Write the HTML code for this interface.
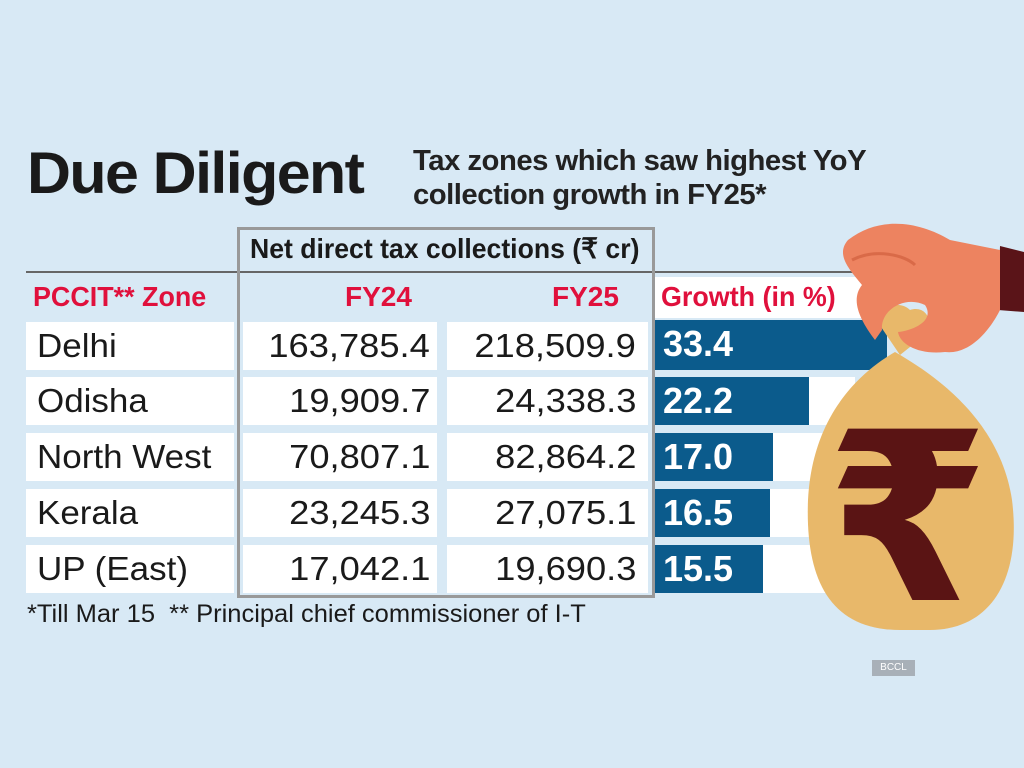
<!DOCTYPE html>
<html><head><meta charset="utf-8"><style>
body{margin:0;width:1024px;height:768px;background:#d8e9f5;position:relative;overflow:hidden;font-family:"Liberation Sans",sans-serif;color:#1a1a1a}
.a{position:absolute}
.c{position:absolute;white-space:nowrap;transform-origin:0 0}
.w{position:absolute;background:#fff}
.n{position:absolute;font-size:33px;white-space:nowrap;line-height:48px;transform:scaleX(1.1);transform-origin:100% 0;text-align:right}
.z{position:absolute;left:37px;font-size:33px;white-space:nowrap;line-height:48px;transform:scaleX(1.06);transform-origin:0 0}
.b{position:absolute;left:655px;background:#0b5b8c;color:#fff;font-weight:bold;font-size:36px;line-height:48px;padding-left:8px;box-sizing:border-box}
</style></head><body>
<div class="c" style="left:27px;top:140px;font-size:58px;font-weight:bold;letter-spacing:-1.5px;transform:scaleX(1.05)">Due Diligent</div>
<div class="c" style="left:413px;top:144px;font-size:29px;font-weight:bold;line-height:34px;color:#222;transform:scaleX(1.01);letter-spacing:-0.5px">Tax zones which saw highest YoY<br>collection growth in FY25*</div>
<div class="a" style="left:26px;top:271px;width:864px;height:2px;background:#666"></div>
<div class="a" style="left:237px;top:227px;width:412px;height:365px;border:3px solid #999"></div>
<div class="c" style="left:250px;top:232px;font-size:28px;font-weight:bold;transform:scaleX(.95)">Net direct tax collections (₹ cr)</div>
<div class="c" style="left:33px;top:281px;font-size:28px;font-weight:bold;color:#e0103c;transform:scaleX(.96)">PCCIT** Zone</div>
<div class="c" style="left:345px;top:281px;font-size:28px;font-weight:bold;color:#e0103c;transform:scaleX(1.0)">FY24</div>
<div class="c" style="left:552px;top:281px;font-size:28px;font-weight:bold;color:#e0103c;transform:scaleX(1.0)">FY25</div>
<div class="w" style="left:655px;top:277px;width:236px;height:41px"></div>
<div class="c" style="left:661px;top:281px;font-size:28px;font-weight:bold;color:#e0103c;transform:scaleX(.96)">Growth (in %)</div>

<div class="w" style="left:26px;top:322px;width:208px;height:48px"></div><div class="w" style="left:243px;top:322px;width:194px;height:48px"></div><div class="w" style="left:447px;top:322px;width:201px;height:48px"></div>
<div class="w" style="left:26px;top:377px;width:208px;height:48px"></div><div class="w" style="left:243px;top:377px;width:194px;height:48px"></div><div class="w" style="left:447px;top:377px;width:201px;height:48px"></div><div class="w" style="left:655px;top:377px;width:200px;height:48px"></div>
<div class="w" style="left:26px;top:433px;width:208px;height:48px"></div><div class="w" style="left:243px;top:433px;width:194px;height:48px"></div><div class="w" style="left:447px;top:433px;width:201px;height:48px"></div><div class="w" style="left:655px;top:433px;width:200px;height:48px"></div>
<div class="w" style="left:26px;top:489px;width:208px;height:48px"></div><div class="w" style="left:243px;top:489px;width:194px;height:48px"></div><div class="w" style="left:447px;top:489px;width:201px;height:48px"></div><div class="w" style="left:655px;top:489px;width:200px;height:48px"></div>
<div class="w" style="left:26px;top:545px;width:208px;height:48px"></div><div class="w" style="left:243px;top:545px;width:194px;height:48px"></div><div class="w" style="left:447px;top:545px;width:201px;height:48px"></div><div class="w" style="left:655px;top:545px;width:200px;height:48px"></div>

<div class="z" style="top:322px">Delhi</div>
<div class="z" style="top:377px">Odisha</div>
<div class="z" style="top:433px">North West</div>
<div class="z" style="top:489px">Kerala</div>
<div class="z" style="top:545px">UP (East)</div>

<div class="n" style="right:594px;top:322px">163,785.4</div><div class="n" style="right:388px;top:322px">218,509.9</div>
<div class="n" style="right:594px;top:377px">19,909.7</div><div class="n" style="right:388px;top:377px">24,338.3</div>
<div class="n" style="right:594px;top:433px">70,807.1</div><div class="n" style="right:388px;top:433px">82,864.2</div>
<div class="n" style="right:594px;top:489px">23,245.3</div><div class="n" style="right:388px;top:489px">27,075.1</div>
<div class="n" style="right:594px;top:545px">17,042.1</div><div class="n" style="right:388px;top:545px">19,690.3</div>

<div class="b" style="top:320px;width:232px;height:50px">33.4</div>
<div class="b" style="top:377px;width:154px;height:48px">22.2</div>
<div class="b" style="top:433px;width:118px;height:48px">17.0</div>
<div class="b" style="top:489px;width:115px;height:48px">16.5</div>
<div class="b" style="top:545px;width:108px;height:48px">15.5</div>

<svg class="a" style="left:0;top:0" width="1024" height="768">
<path d="M1000 246 L1024 252 L1024 312 L998 310 Z" fill="#5a1418"/>
<path d="M900 630 C830 630 805 580 808 500 C812 420 855 375 895 352 C935 375 1000 420 1012 500 C1022 580 990 630 930 630 Z" fill="#e8b86a"/>
<path d="M875 318 C880 305 900 300 910 310 C925 305 935 320 925 335 L900 355 Z" fill="#e8b86a"/>
<path d="M848 240 C880 215 920 222 950 240 L1000 250 L1000 310 C990 330 970 355 945 352 C920 355 900 345 898 332 C915 330 935 320 925 305 C905 295 880 310 882 330 L875 340 C860 320 850 300 862 285 C850 270 835 255 848 240 Z" fill="#ed8360"/>
<path d="M852 260 C875 248 905 255 915 265" stroke="#d96a48" stroke-width="3" fill="none"/>
<text x="826" y="600" font-family="Liberation Sans, DejaVu Sans, sans-serif" font-size="235" font-weight="bold" fill="#5a1414">₹</text>
</svg>

<div class="c" style="left:27px;top:600px;font-size:25px;transform:scaleX(1.02)">*Till Mar 15&nbsp; ** Principal chief commissioner of I-T</div>
<div class="a" style="left:872px;top:660px;width:43px;height:16px;background:#a8b0b8;color:#fff;font-size:10px;line-height:16px;text-align:center">BCCL</div>
</body></html>
